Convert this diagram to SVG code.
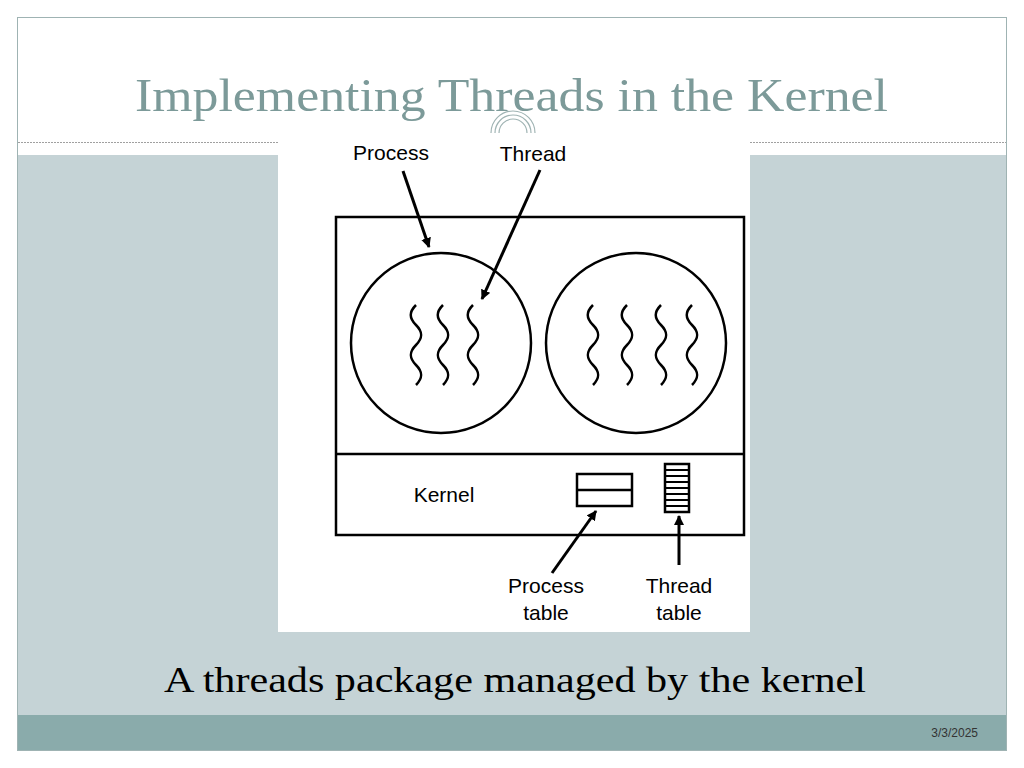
<svg xmlns="http://www.w3.org/2000/svg" xmlns:xlink="http://www.w3.org/1999/xlink" width="1024" height="768" viewBox="0 0 1024 768">
<style>
.ln{fill:none;stroke:#000;stroke-width:2.5}
.lb{font-family:"Liberation Sans",Arial,sans-serif;font-size:21px;fill:#000;text-anchor:middle}
.sq{fill:none;stroke:#000;stroke-width:2.5}
</style>
<defs>
<marker id="ah" markerWidth="10" markerHeight="10" refX="9" refY="5" orient="auto" markerUnits="userSpaceOnUse"><path d="M0,0 L10,5 L0,10 Z" fill="#000"/></marker>
<path id="sq" d="M0,0 c-7,7 -7,13 0,20 c7,7 7,13 0,20 c-7,7 -7,13 0,20 c7,7 7,13 0,20" class="sq"/>
</defs>
<rect x="0" y="0" width="1024" height="768" fill="#fff"/>
<rect x="17.5" y="17.5" width="989" height="733" fill="#fff" stroke="#9fb3b3"/>
<rect x="18" y="155" width="988" height="560" fill="#c5d3d6"/>
<rect x="18" y="715" width="988" height="35" fill="#8aabab"/>
<line x1="18" y1="142.5" x2="1006" y2="142.5" stroke="#a0a0a0" stroke-dasharray="2,1"/>
<text x="135" y="111" font-family="'Liberation Serif','Times New Roman',serif" font-size="46" fill="#7c9a99" textLength="753" lengthAdjust="spacingAndGlyphs">Implementing Threads in the Kernel</text>
<rect x="278" y="142" width="472" height="490" fill="#fff"/>
<g fill="none" stroke="#9fb3b3" stroke-width="1.2">
<path d="M491,133 A22,22 0 0 1 535,133"/><path d="M495,133 A18,18 0 0 1 531,133"/><path d="M499,133 A14,14 0 0 1 527,133"/>
</g>
<g id="box"><rect x="336" y="217" width="408" height="318" class="ln"/><line x1="336" y1="454" x2="744" y2="454" class="ln"/></g>
<g id="proc1"><circle cx="441" cy="343" r="90" class="ln"/>
<use xlink:href="#sq" x="416" y="305"/><use xlink:href="#sq" x="443" y="305"/><use xlink:href="#sq" x="473" y="305"/></g>
<g id="proc2"><circle cx="636" cy="343" r="90" class="ln"/>
<use xlink:href="#sq" x="593" y="305"/><use xlink:href="#sq" x="627" y="305"/><use xlink:href="#sq" x="661" y="305"/><use xlink:href="#sq" x="692" y="305"/></g>
<g id="kernel"><text x="444" y="502" class="lb">Kernel</text></g>
<g id="ptable"><rect x="577" y="474" width="55" height="32" class="ln"/><line x1="577" y1="490" x2="632" y2="490" class="ln"/></g>
<g id="ttable"><rect x="665" y="464" width="24" height="48" class="ln" stroke-width="2"/>
<path d="M665,470H689M665,476H689M665,482H689M665,488H689M665,494H689M665,500H689M665,506H689" stroke="#000" stroke-width="1.8"/></g>
<g id="labels">
<text x="391" y="160" class="lb">Process</text>
<text x="533" y="161" class="lb">Thread</text>
<text x="546" y="593" class="lb">Process</text><text x="546" y="620" class="lb">table</text>
<text x="679" y="593" class="lb">Thread</text><text x="679" y="620" class="lb">table</text>
</g>
<g id="connectors" stroke="#000" stroke-width="3" fill="none">
<line x1="403" y1="171" x2="429" y2="247" marker-end="url(#ah)"/>
<line x1="540" y1="170" x2="482" y2="299" marker-end="url(#ah)"/>
<line x1="552" y1="573" x2="596" y2="511" marker-end="url(#ah)"/>
<line x1="679" y1="565" x2="679" y2="516" marker-end="url(#ah)"/>
</g>
<text x="164" y="692" font-family="'Liberation Serif','Times New Roman',serif" font-size="36" fill="#000" textLength="702" lengthAdjust="spacingAndGlyphs">A threads package managed by the kernel</text>
<text x="978" y="737" font-family="'Liberation Sans',Arial,sans-serif" font-size="12" fill="#333" text-anchor="end">3/3/2025</text>
</svg>
